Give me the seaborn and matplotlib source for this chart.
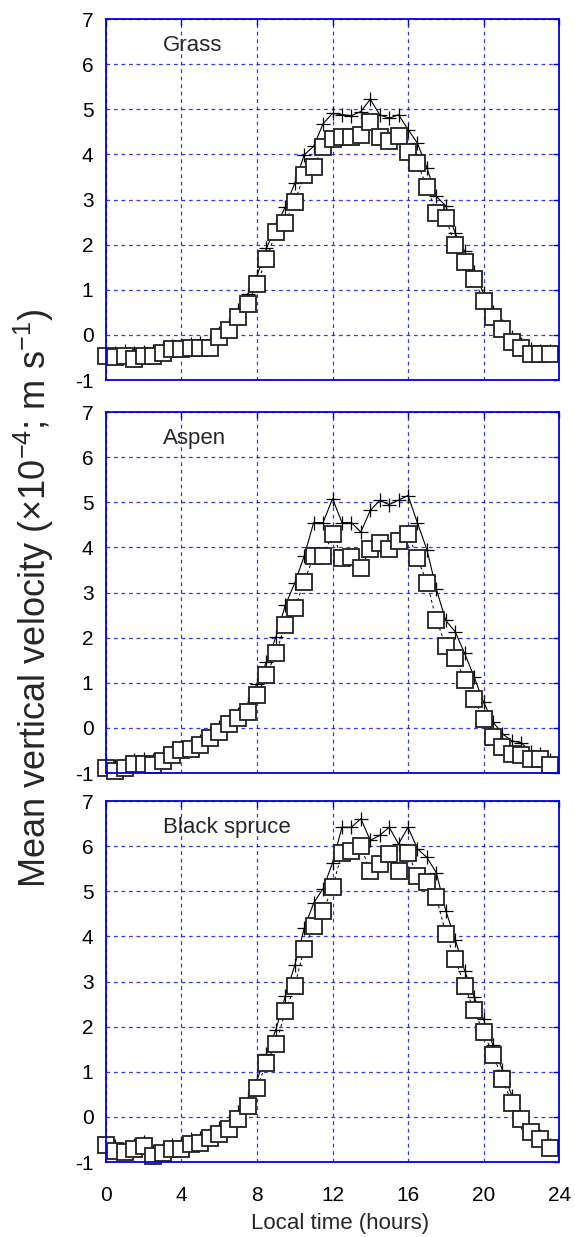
import numpy as np
import pandas as pd
import seaborn as sns
import matplotlib
matplotlib.use('Agg')
import matplotlib.pyplot as plt

# half-hourly local time
hours = [0.0, 0.5, 1.0, 1.5, 2.0, 2.5, 3.0, 3.5, 4.0, 4.5, 5.0, 5.5,
         6.0, 6.5, 7.0, 7.5, 8.0, 8.5, 9.0, 9.5, 10.0, 10.5, 11.0, 11.5,
         12.0, 12.5, 13.0, 13.5, 14.0, 14.5, 15.0, 15.5, 16.0, 16.5, 17.0, 17.5,
         18.0, 18.5, 19.0, 19.5, 20.0, 20.5, 21.0, 21.5, 22.0, 22.5, 23.0, 23.5]

sites = ['Grass', 'Aspen', 'Black spruce']

# solid line with + markers
grass_plus = [-0.38, -0.40, -0.36, -0.40, -0.38, -0.36, -0.30, -0.24, -0.22, -0.20, -0.18, -0.14,
              0.05, 0.25, 0.55, 0.90, 1.31, 1.92, 2.40, 2.84, 3.36, 3.99, 4.18, 4.68,
              4.91, 4.88, 4.86, 4.95, 5.22, 4.88, 4.80, 4.88, 4.55, 4.25, 3.70, 3.07,
              2.86, 2.25, 1.85, 1.40, 0.92, 0.50, 0.20, -0.05, -0.20, -0.32, -0.35, -0.36]
aspen_plus = [-0.82, -0.85, -0.80, -0.72, -0.70, -0.72, -0.62, -0.52, -0.42, -0.36, -0.28, -0.12,
              0.02, 0.15, 0.30, 0.54, 0.98, 1.46, 2.01, 2.72, 3.21, 3.81, 4.55, 4.55,
              5.08, 4.55, 4.55, 4.34, 4.82, 5.04, 4.95, 5.05, 5.15, 4.54, 3.95, 3.07,
              2.38, 2.13, 1.65, 1.13, 0.57, 0.13, -0.13, -0.29, -0.33, -0.53, -0.57, -0.72]
spruce_plus = [-0.55, -0.65, -0.68, -0.62, -0.56, -0.75, -0.70, -0.62, -0.60, -0.50, -0.46, -0.36,
               -0.25, -0.12, 0.10, 0.40, 0.82, 1.40, 1.93, 2.68, 3.36, 4.18, 4.74, 5.06,
               5.63, 6.42, 6.42, 6.61, 6.13, 6.24, 6.42, 6.05, 6.42, 5.94, 5.75, 5.41,
               4.57, 3.93, 3.24, 2.66, 2.16, 1.59, 1.04, 0.47, -0.12, -0.35, -0.43, -0.62]

# dashed line with open squares
grass_sq = [-0.46, -0.50, -0.46, -0.54, -0.47, -0.46, -0.41, -0.32, -0.32, -0.30, -0.29, -0.28,
            -0.05, 0.10, 0.40, 0.69, 1.12, 1.69, 2.27, 2.49, 2.95, 3.55, 3.72, 4.17,
            4.35, 4.38, 4.38, 4.43, 4.71, 4.38, 4.30, 4.41, 4.06, 3.80, 3.28, 2.71,
            2.58, 1.99, 1.62, 1.23, 0.76, 0.40, 0.12, -0.16, -0.28, -0.42, -0.42, -0.42]
aspen_sq = [-0.90, -0.95, -0.88, -0.81, -0.79, -0.82, -0.73, -0.61, -0.50, -0.46, -0.38, -0.22,
            -0.10, 0.08, 0.21, 0.35, 0.73, 1.17, 1.66, 2.27, 2.65, 3.24, 3.80, 3.80,
            4.30, 3.77, 3.78, 3.55, 3.96, 4.10, 3.96, 4.14, 4.30, 3.76, 3.22, 2.40,
            1.82, 1.54, 1.07, 0.63, 0.20, -0.21, -0.43, -0.58, -0.61, -0.70, -0.70, -0.83]
spruce_sq = [-0.62, -0.76, -0.77, -0.71, -0.65, -0.86, -0.79, -0.71, -0.71, -0.60, -0.57, -0.47,
             -0.37, -0.26, -0.05, 0.25, 0.64, 1.20, 1.62, 2.34, 2.91, 3.73, 4.24, 4.56,
             5.09, 5.85, 5.90, 6.00, 5.44, 5.60, 5.83, 5.44, 5.85, 5.33, 5.21, 4.87,
             4.06, 3.49, 2.90, 2.36, 1.88, 1.38, 0.85, 0.30, -0.05, -0.33, -0.49, -0.68]

plus_data = [grass_plus, aspen_plus, spruce_plus]
sq_data = [grass_sq, aspen_sq, spruce_sq]

sns.set_style('white')
plt.rcParams['font.family'] = ['Liberation Sans', 'DejaVu Sans']
plt.rcParams['mathtext.default'] = 'regular'
plt.rcParams['axes.unicode_minus'] = False

fig = plt.figure(figsize=(5.75, 12.37), dpi=100)
bottoms = [0.6928, 0.3751, 0.0606]
grid_col = '#2020e0'

for k in range(3):
    ax = fig.add_axes([0.1843, bottoms[k], 0.788, 0.2918])
    df = pd.DataFrame({'hour': hours, 'plus': plus_data[k], 'square': sq_data[k]})

    # solid line + crosses underneath, squares on top
    sns.lineplot(data=df, x='hour', y='plus', ax=ax, color='black', lw=0.8,
                 marker='+', ms=10, mec='black', mew=0.9, clip_on=False, zorder=3)
    sns.lineplot(data=df, x='hour', y='square', ax=ax, color='black', lw=0.7,
                 linestyle=(0, (3, 3)), marker='s', ms=11, mfc='white',
                 mec='#222222', mew=1.3, clip_on=False, zorder=4)

    ax.set_xlim(0, 24)
    ax.set_ylim(-1, 7)
    ax.set_xticks([0, 4, 8, 12, 16, 20, 24])
    ax.set_yticks([-1, 0, 1, 2, 3, 4, 5, 6, 7])
    ax.grid(True, color=grid_col, linestyle=(0, (3, 3)), lw=0.9, alpha=0.9)
    ax.set_axisbelow(True)
    for sp in ax.spines.values():
        sp.set_color('#0000dd')
        sp.set_linewidth(1.3)
        sp.set_zorder(5)
    ax.tick_params(direction='in', length=4, width=1, color='#0000dd',
                   labelsize=15, labelcolor='black', top=True, right=True)
    ax.tick_params(axis='y', pad=9)
    ax.tick_params(axis='x', pad=17)
    ax.set_xlabel('')
    ax.set_ylabel('')
    if k < 2:
        ax.set_xticklabels([])
    ax.text(3.0, 6.42, sites[k], fontsize=16, va='center', ha='left')

fig.text(340 / 575, 1 - 1224 / 1237, 'Local time (hours)',
         ha='center', va='center', fontsize=16)
fig.text(34 / 575, 0.516, 'Mean vertical velocity (\u00d710$^{-4}$; m s$^{-1}$)',
         rotation=90, ha='center', va='center', fontsize=26)

fig.savefig('out.png', dpi=100)
